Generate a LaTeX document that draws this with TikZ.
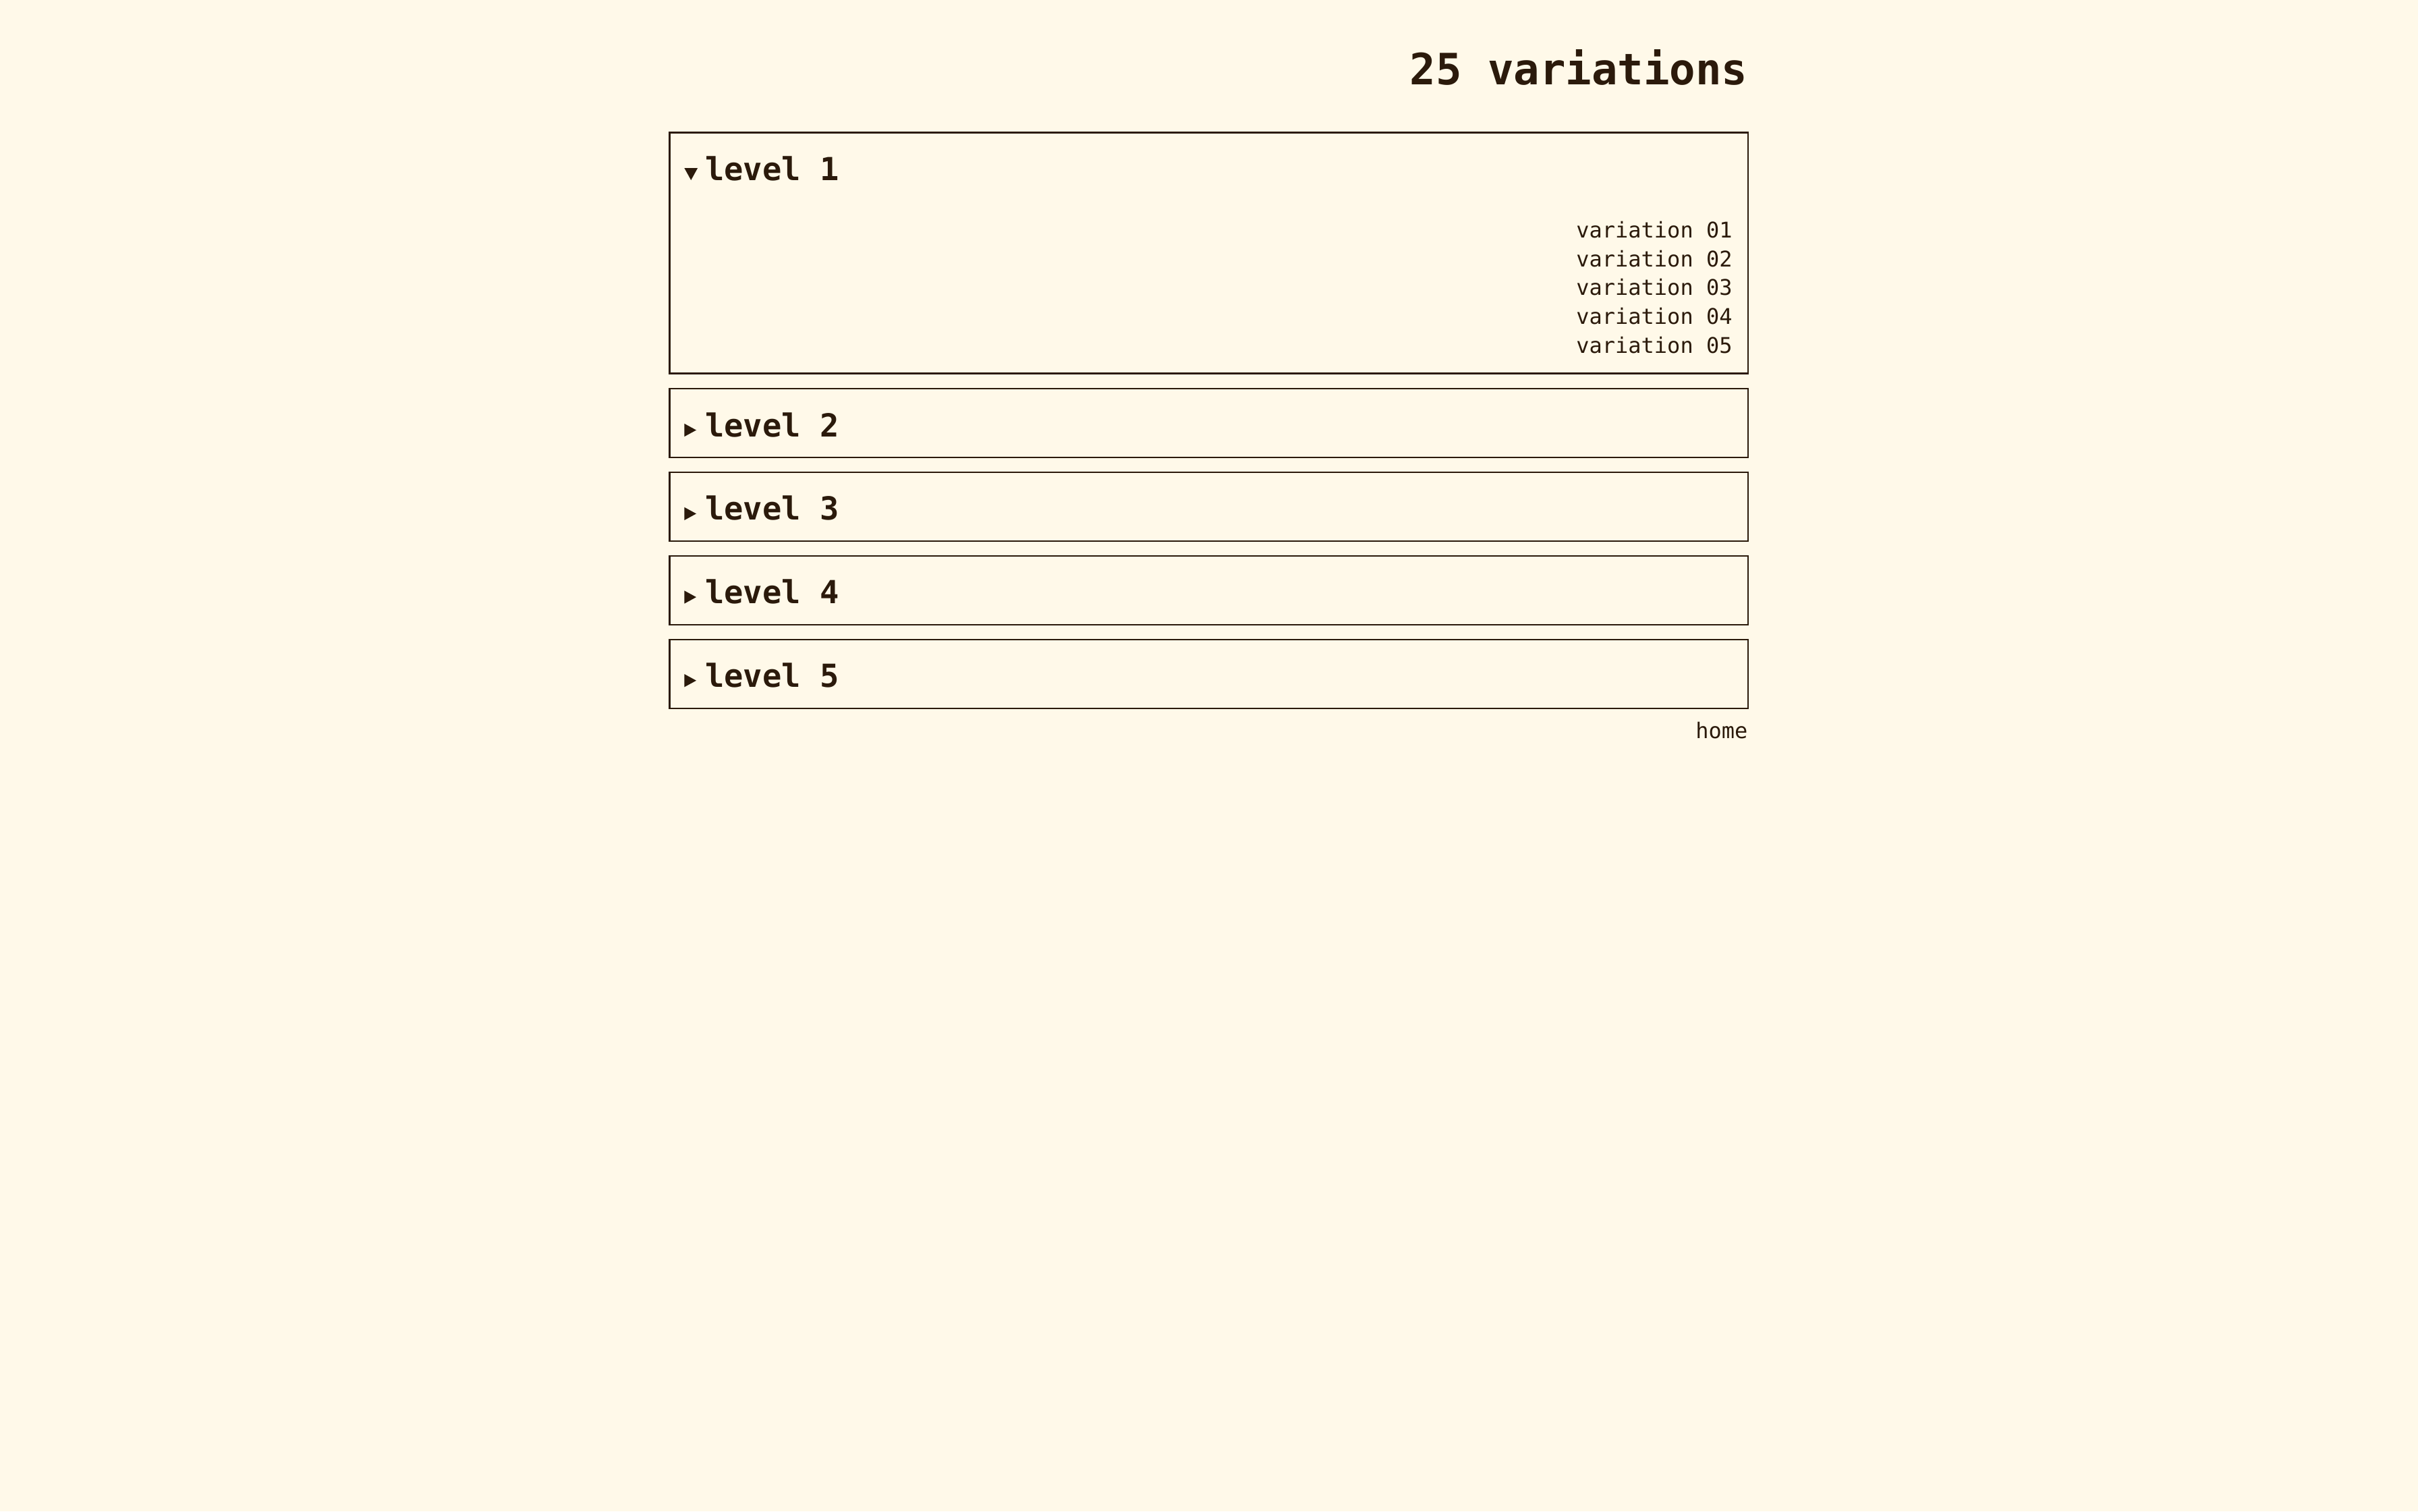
\documentclass[tikz,border=0pt]{standalone}
\usepackage{fontspec}
\setmonofont{DejaVu Sans Mono}
\definecolor{paper}{HTML}{FFF9E9}
\definecolor{ink}{HTML}{2B1A0B}
\tikzset{
  panel/.style={draw=ink,line width=1pt},
  marker/.style={fill=ink},
  heading/.style={font=\ttfamily\bfseries\fontsize{20.6}{24}\selectfont,text=ink,inner sep=0pt,anchor=base west},
  item/.style={font=\ttfamily\fontsize{14}{17}\selectfont,text=ink,inner sep=0pt,anchor=base east}
}
\begin{document}
\begin{tikzpicture}[x=1pt,y=-1pt]
\fill[paper] (0,0) rectangle (1568,980); %page
\node[font=\ttfamily\bfseries\fontsize{28}{34}\selectfont,text=ink,inner sep=0pt,anchor=base east] (title) at (1133.5,55) {25 variations};
% level 1 (open)
\draw[panel] (434.2,86) rectangle (1133.6,242.2);
\fill[marker] (443.8,109) -- (452.4,109) -- (448.1,116.8) -- cycle;
\node[heading] (lvl1) at (457,117) {level 1};
\node[item] (var1) at (1123.5,154.2) {variation 01};
\node[item] (var2) at (1123.5,172.9) {variation 02};
\node[item] (var3) at (1123.5,191.6) {variation 03};
\node[item] (var4) at (1123.5,210.3) {variation 04};
\node[item] (var5) at (1123.5,229) {variation 05};
% levels 2-5 (closed)
\draw[panel] (434.2,252) rectangle (1133.6,296.6);
\fill[marker] (443.8,274.7) -- (451.5,278.9) -- (443.8,283.1) -- cycle;
\node[heading] (lvl2) at (457,283.3) {level 2};
\draw[panel] (434.2,306.3) rectangle (1133.6,350.9);
\fill[marker] (443.8,328.9) -- (451.5,333.1) -- (443.8,337.3) -- cycle;
\node[heading] (lvl3) at (457,337.3) {level 3};
\draw[panel] (434.2,360.4) rectangle (1133.6,405);
\fill[marker] (443.8,383) -- (451.5,387.2) -- (443.8,391.4) -- cycle;
\node[heading] (lvl4) at (457,391.4) {level 4};
\draw[panel] (434.2,414.7) rectangle (1133.6,459.3);
\fill[marker] (443.8,437.1) -- (451.5,441.3) -- (443.8,445.5) -- cycle;
\node[heading] (lvl5) at (457,445.5) {level 5};
\node[item] (home) at (1133.5,479) {home};
\end{tikzpicture}
\end{document}
